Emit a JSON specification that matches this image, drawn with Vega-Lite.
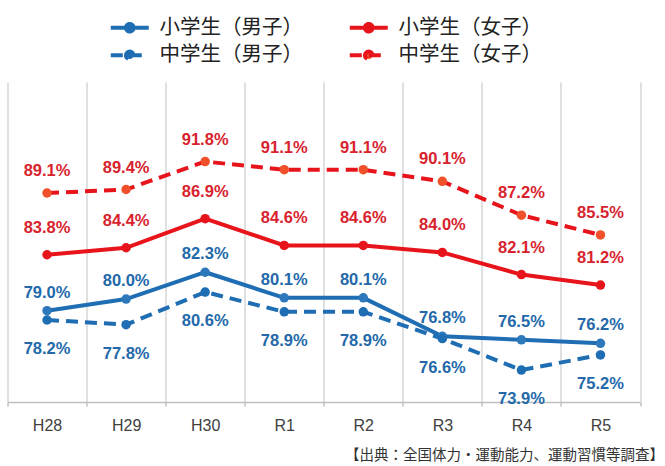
{
  "$schema": "https://vega.github.io/schema/vega-lite/v6.json",
  "width": 632.5,
  "height": 320,
  "autosize": {"type": "none"},
  "padding": {"left": 7.5, "top": 82, "right": 25, "bottom": 64},
  "background": "white",
  "config": {"view": {"stroke": null}, "font": "Liberation Sans"},
  "title": {
    "text": "【出典：全国体力・運動能力、運動習慣等調査】",
    "orient": "bottom",
    "anchor": "end",
    "frame": "group",
    "font": "Noto Sans CJK JP",
    "fontSize": 14.5,
    "fontWeight": "normal",
    "color": "#333333",
    "dx": 24,
    "offset": 16
  },
  "data": {
    "values": [
      {"year": "H28", "series": "小学生（男子）", "value": 79.0},
      {"year": "H29", "series": "小学生（男子）", "value": 80.0},
      {"year": "H30", "series": "小学生（男子）", "value": 82.3},
      {"year": "R1", "series": "小学生（男子）", "value": 80.1},
      {"year": "R2", "series": "小学生（男子）", "value": 80.1},
      {"year": "R3", "series": "小学生（男子）", "value": 76.8},
      {"year": "R4", "series": "小学生（男子）", "value": 76.5},
      {"year": "R5", "series": "小学生（男子）", "value": 76.2},
      {"year": "H28", "series": "中学生（男子）", "value": 78.2},
      {"year": "H29", "series": "中学生（男子）", "value": 77.8},
      {"year": "H30", "series": "中学生（男子）", "value": 80.6},
      {"year": "R1", "series": "中学生（男子）", "value": 78.9},
      {"year": "R2", "series": "中学生（男子）", "value": 78.9},
      {"year": "R3", "series": "中学生（男子）", "value": 76.6},
      {"year": "R4", "series": "中学生（男子）", "value": 73.9},
      {"year": "R5", "series": "中学生（男子）", "value": 75.2},
      {"year": "H28", "series": "小学生（女子）", "value": 83.8},
      {"year": "H29", "series": "小学生（女子）", "value": 84.4},
      {"year": "H30", "series": "小学生（女子）", "value": 86.9},
      {"year": "R1", "series": "小学生（女子）", "value": 84.6},
      {"year": "R2", "series": "小学生（女子）", "value": 84.6},
      {"year": "R3", "series": "小学生（女子）", "value": 84.0},
      {"year": "R4", "series": "小学生（女子）", "value": 82.1},
      {"year": "R5", "series": "小学生（女子）", "value": 81.2},
      {"year": "H28", "series": "中学生（女子）", "value": 89.1},
      {"year": "H29", "series": "中学生（女子）", "value": 89.4},
      {"year": "H30", "series": "中学生（女子）", "value": 91.8},
      {"year": "R1", "series": "中学生（女子）", "value": 91.1},
      {"year": "R2", "series": "中学生（女子）", "value": 91.1},
      {"year": "R3", "series": "中学生（女子）", "value": 90.1},
      {"year": "R4", "series": "中学生（女子）", "value": 87.2},
      {"year": "R5", "series": "中学生（女子）", "value": 85.5}
    ]
  },
  "transform": [
    {"calculate": "format(datum.value, '.1f') + '%'", "as": "label"}
  ],
  "encoding": {
    "x": {
      "field": "year",
      "type": "ordinal",
      "sort": ["H28", "H29", "H30", "R1", "R2", "R3", "R4", "R5"],
      "bandPosition": 0.5,
      "scale": {"type": "band", "paddingInner": 0, "paddingOuter": 0},
      "axis": {
        "title": null,
        "tickBand": "extent",
        "grid": true,
        "gridColor": "#d6d6d6",
        "gridWidth": 1.5,
        "domain": true,
        "domainColor": "#c0c0c0",
        "domainWidth": 1.5,
        "ticks": true,
        "tickColor": "#c0c0c0",
        "tickWidth": 1.5,
        "tickSize": 4,
        "labelAngle": 0,
        "labelFont": "Liberation Sans",
        "labelFontSize": 16,
        "labelColor": "#404040",
        "labelPadding": 11
      }
    },
    "y": {
      "field": "value",
      "type": "quantitative",
      "scale": {"domain": [71.16, 98.63], "nice": false, "zero": false},
      "axis": null
    },
    "color": {
      "field": "series",
      "type": "nominal",
      "scale": {
        "domain": ["小学生（男子）", "小学生（女子）", "中学生（男子）", "中学生（女子）"],
        "range": ["#1F6DB3", "#E8141B", "#1F6DB3", "#E8141B"]
      },
      "legend": {
        "title": null,
        "orient": "none",
        "direction": "horizontal",
        "legendX": 112,
        "legendY": -65,
        "columns": 2,
        "columnPadding": 38,
        "rowPadding": 3,
        "padding": 0,
        "symbolType": "M-4,0H4M-0.8,0A0.8,0.8,0,1,1,0.8,0A0.8,0.8,0,1,1,-0.8,0Z",
        "symbolSize": 625,
        "symbolStrokeWidth": 4,
        "labelFont": "Noto Sans CJK JP",
        "labelFontSize": 20.5,
        "labelColor": "#222222",
        "labelOffset": 19.5,
        "labelLimit": 300,
        "encode": {
          "symbols": {
            "update": {
              "fill": {"scale": "color", "field": "value"},
              "strokeWidth": {"value": 4},
              "strokeDash": {"signal": "indexof(datum.value, '中学生') === 0 ? [12, 7] : [1, 0]"}
            }
          }
        }
      }
    }
  },
  "layer": [
    {
      "transform": [{"filter": "indexof(datum.series, '小学生') === 0"}],
      "mark": {"type": "line", "strokeWidth": 4, "strokeCap": "butt"}
    },
    {
      "transform": [{"filter": "indexof(datum.series, '中学生') === 0"}],
      "mark": {"type": "line", "strokeWidth": 4, "strokeCap": "butt", "strokeDash": [12, 7]}
    },
    {
      "mark": {"type": "point", "filled": true, "opacity": 1, "shape": "circle"},
      "encoding": {
        "color": {"value": null},
        "fill": {
          "field": "series",
          "type": "nominal",
          "scale": {
            "domain": ["小学生（男子）", "小学生（女子）", "中学生（男子）", "中学生（女子）"],
            "range": ["#2E78BC", "#E8141B", "#1F6DB3", "#F0502A"]
          },
          "legend": null
        },
        "size": {
          "field": "series",
          "type": "nominal",
          "scale": {
            "domain": ["小学生（男子）", "小学生（女子）", "中学生（男子）", "中学生（女子）"],
            "range": [90, 90, 120, 120]
          },
          "legend": null
        }
      }
    },
    {
      "transform": [{"filter": "datum.series === '小学生（男子）'"}],
      "mark": {"type": "text", "dy": -18, "fontSize": 16.5, "fontWeight": "bold", "baseline": "middle"},
      "encoding": {"text": {"field": "label"}, "color": {"value": "#2369AA"}}
    },
    {
      "transform": [{"filter": "datum.series === '中学生（男子）'"}],
      "mark": {"type": "text", "dy": 29, "fontSize": 16.5, "fontWeight": "bold", "baseline": "middle"},
      "encoding": {"text": {"field": "label"}, "color": {"value": "#2369AA"}}
    },
    {
      "transform": [{"filter": "datum.series === '小学生（女子）'"}],
      "mark": {"type": "text", "dy": -27, "fontSize": 16.5, "fontWeight": "bold", "baseline": "middle"},
      "encoding": {"text": {"field": "label"}, "color": {"value": "#D8232E"}}
    },
    {
      "transform": [{"filter": "datum.series === '中学生（女子）'"}],
      "mark": {"type": "text", "dy": -22, "fontSize": 16.5, "fontWeight": "bold", "baseline": "middle"},
      "encoding": {"text": {"field": "label"}, "color": {"value": "#D8232E"}}
    }
  ]
}
